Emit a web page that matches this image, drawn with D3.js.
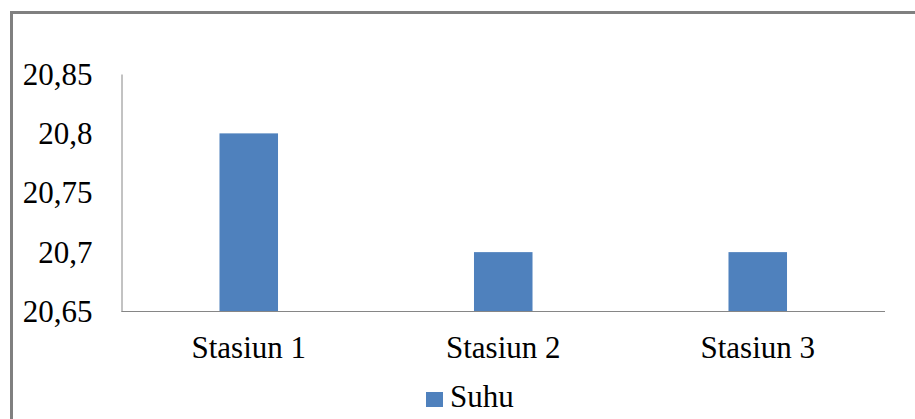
<!DOCTYPE html>
<html><head><meta charset="utf-8">
<script src="https://cdn.jsdelivr.net/npm/d3@7"></script>
<style>html,body{margin:0;padding:0;background:#fff;}svg{display:block;}
svg text{font-family:"Liberation Serif","Times New Roman",serif;}</style>
</head><body>
<svg id="c" width="915" height="419"></svg>
<script>
const categories = ["Stasiun 1", "Stasiun 2", "Stasiun 3"];
const suhu = [20.8, 20.7, 20.7];
const yTicks = [20.65, 20.7, 20.75, 20.8, 20.85];
const tickLabels = ["20,65", "20,7", "20,75", "20,8", "20,85"];
const seriesName = "Suhu";

(function () {
const svg = d3.select("#c");

// outer frame
svg.append("rect").attr("x", 11.5).attr("y", 12.5).attr("width", 1000).attr("height", 1000)
  .attr("fill", "none").attr("stroke", "#808080").attr("stroke-width", 3);

const pL = 121.5, pR = 885, pT = 74, pB = 311.5;
const x = d3.scaleBand().domain(categories).range([pL, pR]).paddingInner(0.77).paddingOuter(0.385);
const y = d3.scaleLinear().domain([20.65, 20.85]).range([pB, pT]);

svg.selectAll("rect.bar").data(suhu).enter().append("rect").attr("class", "bar")
  .attr("x", (d, i) => x(categories[i]))
  .attr("width", x.bandwidth())
  .attr("y", d => y(d))
  .attr("height", d => pB - y(d))
  .attr("fill", "#4F81BD");

const yAxis = d3.axisLeft(y).tickValues(yTicks).tickFormat((d, i) => tickLabels[i]).tickSize(0).tickPadding(29);
const gy = svg.append("g").attr("transform", `translate(${pL},0)`).call(yAxis);
gy.attr("font-family", null).attr("font-size", null);
gy.select(".domain").attr("stroke", "#868686");
gy.selectAll("text").style("font-size", "31px").attr("fill", "#000").attr("dy", "0.33em");

const xAxis = d3.axisBottom(x).tickSize(0).tickPadding(24);
const gx = svg.append("g").attr("transform", `translate(0,${pB})`).call(xAxis);
gx.attr("font-family", null).attr("font-size", null);
gx.select(".domain").attr("stroke", "#868686").attr("d", `M${pL},0H${pR}`);
gx.selectAll("text").style("font-size", "31px").attr("fill", "#000").attr("dy", "0.71em");

// legend
const lg = svg.append("g");
lg.append("rect").attr("x", 426).attr("y", 392).attr("width", 17).attr("height", 15).attr("fill", "#4F81BD");
lg.append("text").attr("x", 450).attr("y", 407).text(seriesName)
  .style("font-size", "31px").attr("fill", "#000");
})();
</script>
</body></html>
